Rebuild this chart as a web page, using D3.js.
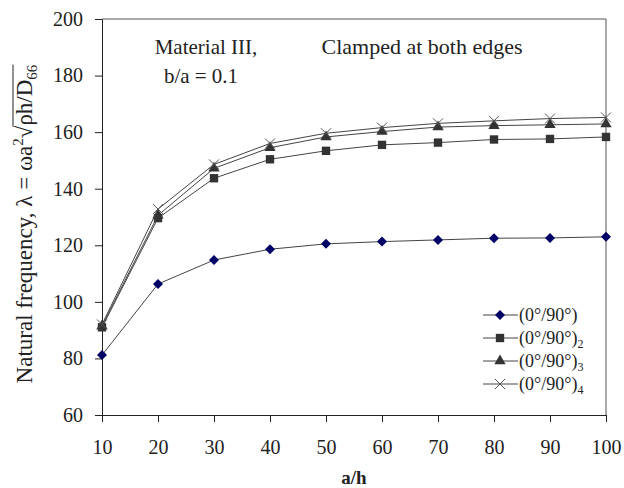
<!DOCTYPE html>
<html lang="en">
<head>
<meta charset="UTF-8">
<title>Natural frequency vs a/h</title>
<script src="https://d3js.org/d3.v7.min.js"></script>
<style>
    body { margin: 0; background: #fff; }
    svg { display: block; }
    svg text { font-family: "Liberation Serif", serif; }
    .tick text { font-size: 20px; fill: #222; }
    .domain, .tick line { stroke: #222; }
</style>
</head>
<body>
<div id="chart"></div>
<script>
    // a/h values
    const ratios = [10, 20, 30, 40, 50, 60, 70, 80, 90, 100];
    // (0/90), (0/90)2, (0/90)3, (0/90)4
    const lay1 = [81.2, 106.3, 114.8, 118.6, 120.5, 121.3, 121.9, 122.5, 122.6, 123.0];
    const lay2 = [91.0, 129.6, 143.7, 150.4, 153.4, 155.5, 156.3, 157.4, 157.6, 158.3];
    const lay3 = [91.5, 130.6, 147.2, 154.5, 158.3, 160.2, 161.8, 162.3, 162.6, 162.9];
    const lay4 = [92.0, 132.8, 148.6, 156.0, 159.6, 161.6, 163.1, 164.0, 164.8, 165.2];
    const yTicks = [60, 80, 100, 120, 140, 160, 180, 200];
    const seriesNames = ["1", "2", "3", "4"];

    const width = 624, height = 488;
    const margin = {top: 19, right: 18, bottom: 73, left: 102};
    const iw = width - margin.left - margin.right;
    const ih = height - margin.top - margin.bottom;

    const svg = d3.select("#chart").append("svg")
        .attr("width", width).attr("height", height)
        .attr("font-family", "Liberation Serif");

    const g = svg.append("g").attr("transform", `translate(${margin.left},${margin.top})`);

    const x = d3.scaleLinear().domain([10, 100]).range([0, iw]);
    const y = d3.scaleLinear().domain([60, 200]).range([ih, 0]);

    // frame (top + right)
    g.append("path")
        .attr("d", `M0,0H${iw}V${ih}`)
        .attr("fill", "none").attr("stroke", "#555").attr("stroke-width", 1);

    g.append("g").attr("transform", `translate(0,${ih})`)
        .call(d3.axisBottom(x).tickValues(ratios).tickSize(7).tickPadding(15))
        .attr("font-family", "Liberation Serif").attr("font-size", 20)
        .call(a => a.selectAll("text").attr("dy", "0.85em"));

    g.append("g")
        .call(d3.axisLeft(y).tickValues(yTicks).tickSize(7).tickPadding(12))
        .attr("font-family", "Liberation Serif").attr("font-size", 20);

    const series = [
        {vals: lay1, sym: "diamond", fill: "#000066"},
        {vals: lay2, sym: d3.symbolSquare, size: 70, fill: "#333"},
        {vals: lay3, sym: d3.symbolTriangle, size: 55, fill: "#333"},
        {vals: lay4, sym: "x", fill: "#555"}
    ];

    const line = d3.line().x((d, i) => x(ratios[i])).y(d => y(d));

    function drawMarker(sel, s) {
        if (s.sym === "x") {
            sel.append("path")
                .attr("d", "M-5,-5L5,5M-5,5L5,-5")
                .attr("stroke", s.fill).attr("stroke-width", 1).attr("fill", "none");
        } else if (s.sym === "diamond") {
            sel.append("path")
                .attr("d", "M0,-5L5,0L0,5L-5,0Z")
                .attr("fill", s.fill);
        } else {
            sel.append("path")
                .attr("d", d3.symbol().type(s.sym).size(s.size)())
                .attr("fill", s.fill);
        }
    }

    series.forEach(s => {
        g.append("path").datum(s.vals)
            .attr("d", line)
            .attr("fill", "none").attr("stroke", "#444").attr("stroke-width", 1);
        s.vals.forEach((v, i) => {
            const m = g.append("g").attr("transform", `translate(${x(ratios[i])},${y(v)})`);
            drawMarker(m, s);
        });
    });

    // annotations
    g.append("text").attr("x", 104).attr("y", 35).attr("text-anchor", "middle")
        .attr("font-size", 21).attr("fill", "#222").text("Material III,");
    g.append("text").attr("x", 99).attr("y", 64).attr("text-anchor", "middle")
        .attr("font-size", 21).attr("fill", "#222").text("b/a = 0.1");
    g.append("text").attr("x", 320).attr("y", 35).attr("text-anchor", "middle")
        .attr("font-size", 22).attr("fill", "#222").text("Clamped at both edges");

    // legend
    const leg = g.append("g").attr("transform", "translate(381,296)");
    series.forEach((s, i) => {
        const row = leg.append("g").attr("transform", `translate(0,${i * 23})`);
        row.append("line").attr("x1", 0).attr("x2", 35)
            .attr("stroke", "#444").attr("stroke-width", 1);
        drawMarker(row.append("g").attr("transform", "translate(17,0)"), s);
        const t = row.append("text").attr("x", 36).attr("y", 6)
            .attr("font-size", 18).attr("fill", "#222");
        t.append("tspan").text("(0°/90°)");
        if (i > 0) t.append("tspan").attr("font-size", 12).attr("dy", 4).text(seriesNames[i]);
    });

    // x title
    svg.append("text").attr("x", margin.left + iw / 2).attr("y", 484)
        .attr("text-anchor", "middle").attr("font-size", 19).attr("font-weight", "bold")
        .attr("fill", "#222").text("a/h");

    // y title
    const yt = svg.append("g").attr("transform", `translate(32,224) rotate(-90)`);
    const tt = yt.append("text").attr("text-anchor", "middle").attr("font-size", 23).attr("fill", "#222");
    tt.append("tspan").text("Natural frequency,  λ = ωa");
    tt.append("tspan").attr("font-size", 15).attr("dy", -9).text("2");
    tt.append("tspan").attr("dy", 9).text("√");
    tt.append("tspan").text("ρh/D");
    tt.append("tspan").attr("font-size", 15).attr("dy", 5).text("66");
    // overline above ρh/D66
    const node = tt.node();
    const full = node.getNumberOfChars();
    const p0 = node.getStartPositionOfChar(full - 6);
    const p1 = node.getEndPositionOfChar(full - 1);
    yt.append("line").attr("x1", p0.x - 1).attr("x2", p1.x)
        .attr("y1", -19).attr("y2", -19).attr("stroke", "#222").attr("stroke-width", 1);
</script>
</body>
</html>
